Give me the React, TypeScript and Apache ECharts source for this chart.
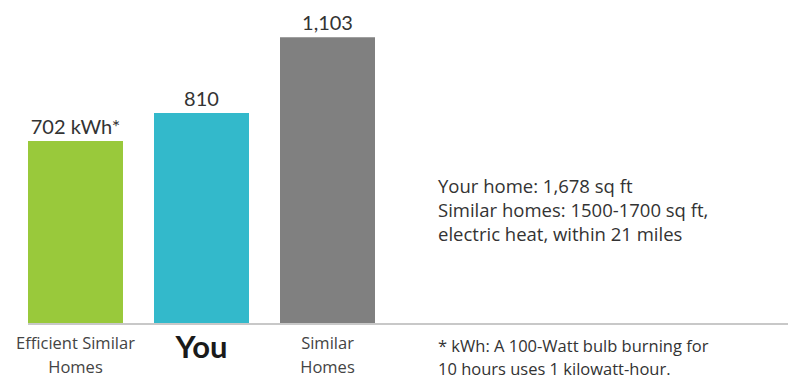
import React, { useEffect, useRef } from "react";
import * as echarts from "echarts";

const categories = ["Efficient Similar\nHomes", "You", "Similar\nHomes"];
const usageKwh = [702, 810, 1103];
const valueLabels = ["702 kWh*", "810", "1,103"];
const barColors = ["#99c93b", "#33b9cb", "#808080"];
const infoLines = [
  "Your home: 1,678 sq ft",
  "Similar homes: 1500-1700 sq ft,",
  "electric heat, within 21 miles",
];
const footnoteLines = [
  "* kWh: A 100-Watt bulb burning for",
  "10 hours uses 1 kilowatt-hour.",
];

const FONT = "Lato, 'Open Sans', sans-serif";
const WIDE = "'Open Sans', Lato, sans-serif";

export default function App() {
  const ref = useRef<HTMLDivElement>(null);
  useEffect(() => {
    if (!ref.current) return;
    const chart = echarts.init(ref.current, null, { renderer: "svg" });
    chart.setOption({
      animation: false,
      backgroundColor: "#ffffff",
      grid: { left: 12.5, width: 378, top: 12, height: 311 },
      xAxis: {
        type: "category",
        data: categories,
        axisLine: { show: false },
        axisTick: { show: false },
        axisLabel: {
          margin: 7,
          interval: 0,
          formatter: (v: string) =>
            v === "You"
              ? "{you|You}"
              : v
                  .split("\n")
                  .map((l) => "{n|" + l + "}")
                  .join("\n"),
          rich: {
            you: {
              fontFamily: FONT,
              fontSize: 31,
              fontWeight: "bold",
              color: "#1a1a1a",
              lineHeight: 32,
            },
            n: {
              fontFamily: WIDE,
              fontSize: 16.5,
              color: "#444444",
              lineHeight: 24,
            },
          },
        },
      },
      yAxis: { type: "value", min: 0, max: 1200, show: false },
      series: [
        {
          type: "bar",
          barWidth: 95,
          data: usageKwh.map((v, i) => ({
            value: v,
            itemStyle: { color: barColors[i] },
          })),
          label: {
            show: true,
            position: "top",
            distance: 5,
            fontFamily: FONT,
            fontSize: 20,
            color: "#333333",
            formatter: (p: any) => valueLabels[p.dataIndex],
          },
        },
      ],
      graphic: [
        {
          type: "line",
          shape: { x1: 28, y1: 324, x2: 788, y2: 324 },
          style: { stroke: "#c8c8c8", lineWidth: 2 },
        },
        {
          type: "text",
          left: 438,
          top: 173,
          style: {
            text: infoLines.join("\n"),
            fontFamily: WIDE,
            fontSize: 18.5,
            lineHeight: 24,
            fill: "#333333",
          },
        },
        {
          type: "text",
          left: 438,
          top: 334,
          style: {
            text: footnoteLines.join("\n"),
            fontFamily: WIDE,
            fontSize: 16.5,
            lineHeight: 23,
            fill: "#333333",
          },
        },
      ],
    });
    return () => chart.dispose();
  }, []);
  return <div ref={ref} style={{ width: 788, height: 382, position: "absolute", left: 0, top: 0 }} />;
}
